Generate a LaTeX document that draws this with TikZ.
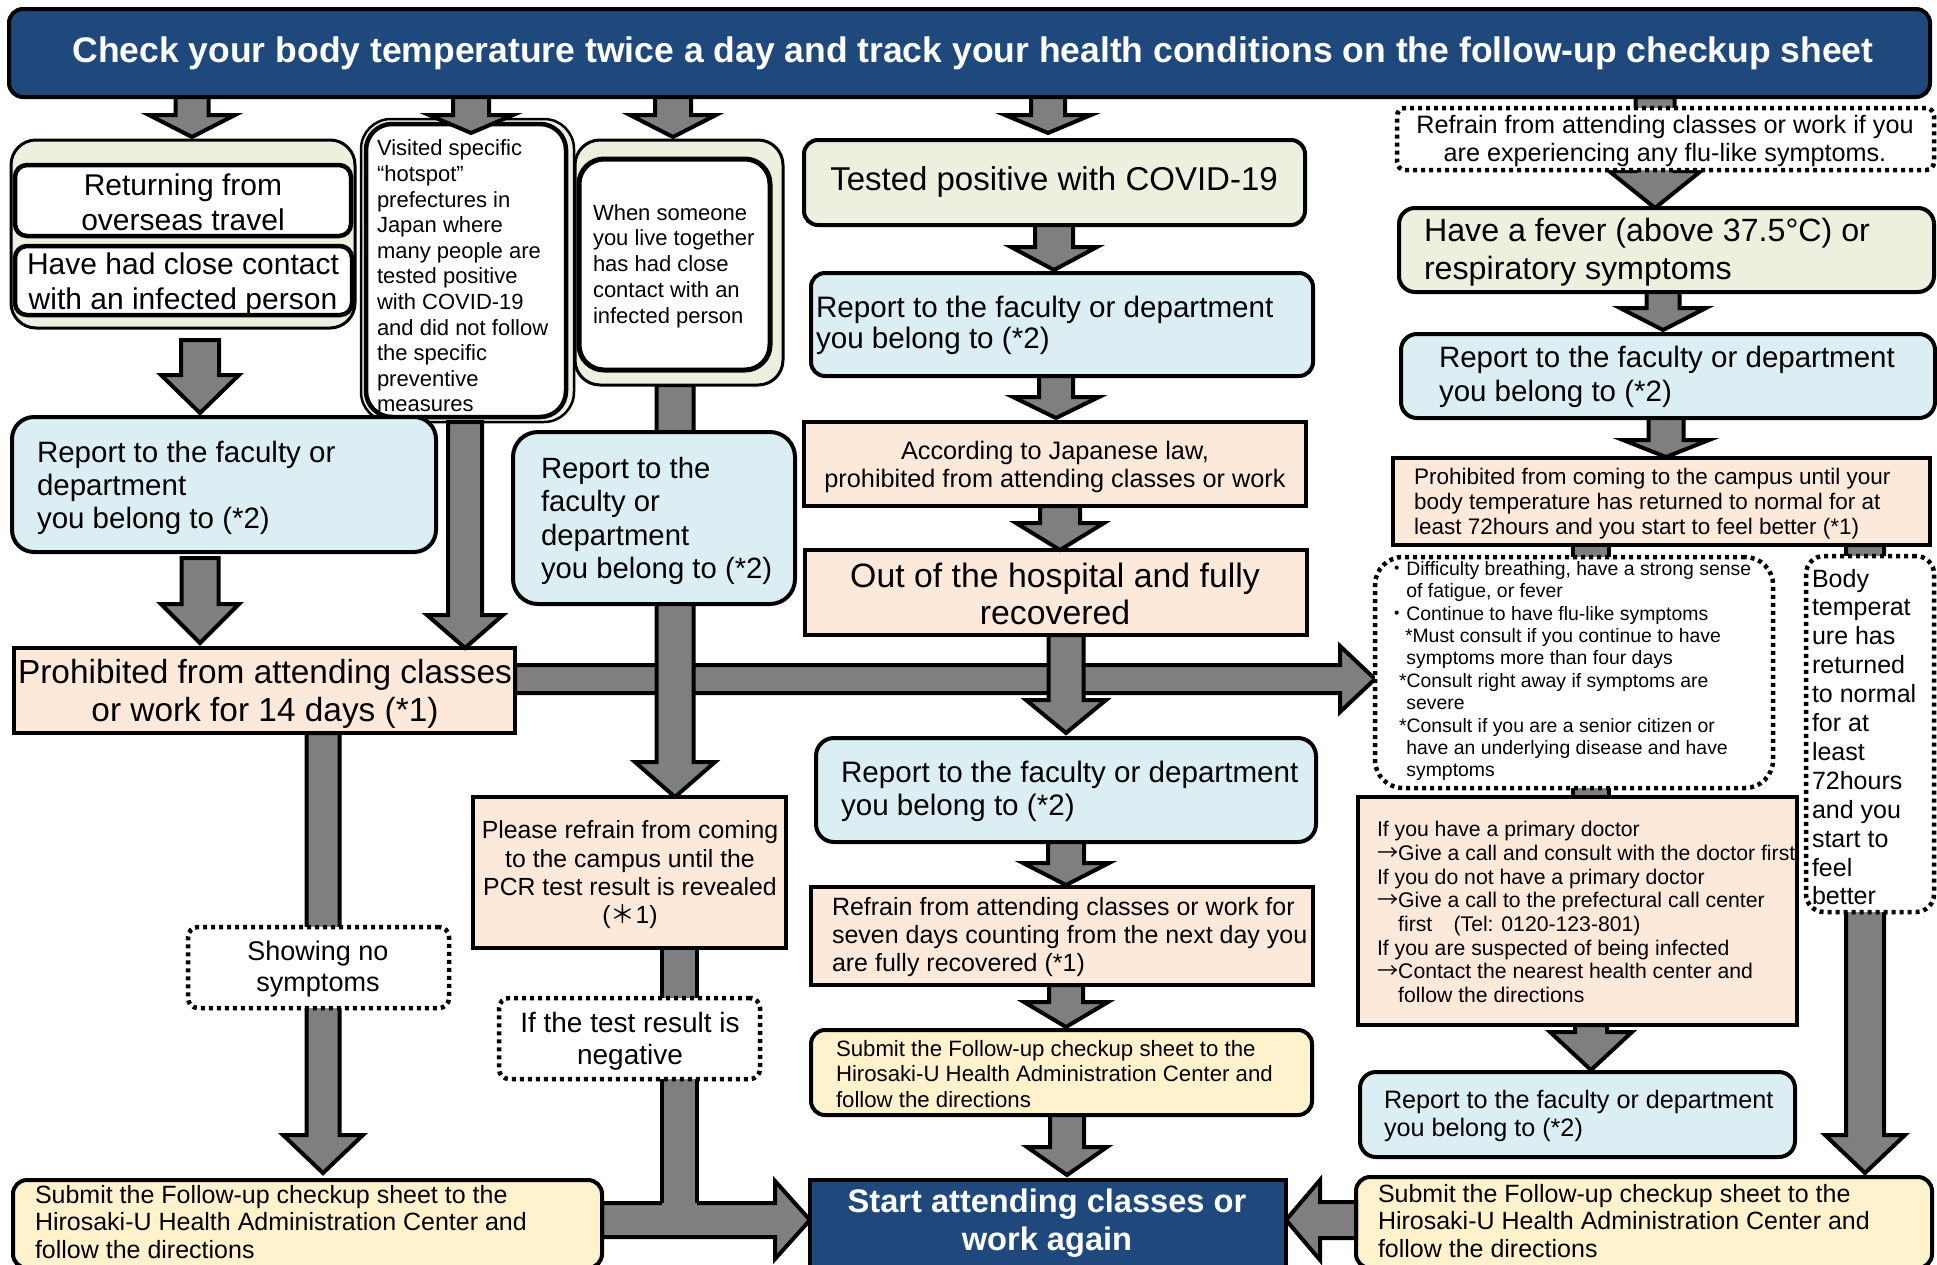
\documentclass[tikz,border=0pt]{standalone}
\usepackage{fontspec}
\setmainfont{Liberation Sans}
\newfontfamily\cjk{Noto Sans CJK JP}
\usetikzlibrary{calc,fit}
\definecolor{tgreen}{HTML}{EBF1DE}
\definecolor{tblue}{HTML}{DAEEF3}
\definecolor{tpeach}{HTML}{FDE9D9}
\definecolor{tyellow}{HTML}{FFF2CC}
\definecolor{tnavy}{HTML}{1F497D}
\definecolor{tgray}{HTML}{7F7F7F}
\pgfdeclarelayer{bg}
\pgfsetlayers{bg,main}
\newcommand\fz[2]{\fontsize{#1pt}{#2pt}\selectfont}
% vertical block arrow: from, to, x, shaft half, head half, head length
\newcommand\varrow[6]{%
  \draw[blk] let \p1=#1, \p2=#2, \p3=(#3,0) in
   (\x3-#4pt,\y1) -- (\x3+#4pt,\y1) -- (\x3+#4pt,\y2+#6pt) -- (\x3+#5pt,\y2+#6pt)
   -- (\x3,\y2) -- (\x3-#5pt,\y2+#6pt) -- (\x3-#4pt,\y2+#6pt) -- cycle;}
% rightward block arrow: from, to, y, shaft half, head half, head length
\newcommand\harrow[6]{%
  \draw[blk] let \p1=#1, \p2=#2, \p3=(0,#3) in
   (\x1,\y3+#4pt) -- (\x2-#6pt,\y3+#4pt) -- (\x2-#6pt,\y3+#5pt) -- (\x2,\y3)
   -- (\x2-#6pt,\y3-#5pt) -- (\x2-#6pt,\y3-#4pt) -- (\x1,\y3-#4pt) -- cycle;}
% leftward block arrow
\newcommand\larrow[6]{%
  \draw[blk] let \p1=#1, \p2=#2, \p3=(0,#3) in
   (\x1,\y3+#4pt) -- (\x2+#6pt,\y3+#4pt) -- (\x2+#6pt,\y3+#5pt) -- (\x2,\y3)
   -- (\x2+#6pt,\y3-#5pt) -- (\x2+#6pt,\y3-#4pt) -- (\x1,\y3-#4pt) -- cycle;}
% vertical bar: from, to, x, half width
\newcommand\vbar[4]{%
  \draw[blk] let \p1=#1, \p2=#2, \p3=(#3,0) in
   (\x3-#4pt,\y1) rectangle (\x3+#4pt,\y2);}
\begin{document}
\begin{tikzpicture}[x=1pt,y=-1pt,
  blk/.style={fill=tgray,draw=black,line width=4pt,line join=miter},
  bx/.style={draw=black,line width=4pt,inner sep=0pt,outer sep=0pt},
  rbox/.style={bx,rounded corners=#1}, rbox/.default=14pt,
  dbox/.style={bx,fill=white,line width=4.5pt,dash pattern=on 4pt off 4pt,rounded corners=#1}, dbox/.default=10pt,
  txt/.style={inner sep=0pt,outer sep=0pt,text=black}
]
\path[use as bounding box] (0,0) rectangle (1937,1264);
\clip (0,0) rectangle (1937,1264);

% ---------- boxes ----------
\node[rbox=14pt, fill=tnavy, fit={(9,9) (1930,97)}] (title) {};

\node[rbox=25pt, fill=tgreen, line width=3pt, fit={(11,140) (355,328)}] (grp1) {};
\node[rbox=12pt, fill=white, line width=4.5pt, fit={(15,165) (351,236)}] (in1) {};
\node[rbox=12pt, fill=white, line width=4.5pt, fit={(15,246) (352,315)}] (in2) {};
\node[rbox=30pt, fill=tgreen, line width=2.5pt, fit={(361,119) (574,422)}] (visO) {};
\node[rbox=26pt, fill=white, line width=4.5pt, fit={(366,124) (566,417)}] (visI) {};
\node[rbox=25pt, fill=tgreen, line width=3pt, fit={(575,140) (783,385)}] (grp3) {};
\node[rbox=25pt, fill=white, line width=5pt, fit={(579,159) (770,370)}] (when) {};

\node[rbox=22pt, fill=tblue, fit={(12,417) (436,552)}] (rep1) {};
\node[bx, fill=tpeach, fit={(14,648) (515,733)}] (pro1) {};
\node[rbox=25pt, fill=tblue, fit={(513,432) (795,604)}] (rep3) {};
\node[bx, fill=tpeach, fit={(473,797) (786,948)}] (please) {};
\node[dbox, fit={(188,927) (449,1008)}] (nosym) {};
\node[dbox, fit={(499,998) (760,1079)}] (neg) {};
\node[rbox=14pt, fill=tyellow, fit={(13,1180) (602,1268)}] (sub1) {};

\node[rbox=14pt, fill=tgreen, fit={(804,140) (1305,225)}] (tested) {};
\node[rbox=14pt, fill=tblue, fit={(811,273) (1313,376)}] (repc1) {};
\node[bx, fill=tpeach, fit={(804,422) (1306,506)}] (acc) {};
\node[bx, fill=tpeach, fit={(805,550) (1307,635)}] (out) {};
\node[rbox=18pt, fill=tblue, fit={(816,738) (1316,842)}] (repc2) {};
\node[bx, fill=tpeach, fit={(811,887) (1313,985)}] (refc) {};
\node[rbox=14pt, fill=tyellow, fit={(811,1030) (1312,1115)}] (subc) {};
\node[bx, fill=tnavy, fit={(810,1180) (1286,1268)}] (start) {};

\node[dbox=8pt, fit={(1397,108) (1934,170)}] (dtop) {};
\node[rbox=16pt, fill=tgreen, fit={(1399,208) (1934,292)}] (fever) {};
\node[rbox=16pt, fill=tblue, fit={(1401,334) (1935,418)}] (rep5) {};
\node[bx, fill=tpeach, fit={(1393,458) (1930,545)}] (pro5) {};
\node[dbox=28pt, fit={(1375,557) (1773,788)}] (bul) {};
\node[bx, fill=tpeach, fit={(1358,797) (1797,1025)}] (doc) {};
\node[rbox=16pt, fill=tblue, fit={(1360,1072) (1795,1157)}] (rep6) {};
\node[dbox=18pt, fit={(1806,556) (1934,912)}] (tall) {};
\node[rbox=14pt, fill=tyellow, fit={(1356,1177) (1932,1268)}] (sub5) {};

% ---------- arrows behind boxes ----------
\begin{pgfonlayer}{bg}
\fill[white] (0,0) rectangle (1937,1264);
\varrow{(title.south)}{(fever.north)}{1655}{19.5}{46}{37}
\harrow{(pro1.east)}{(bul.west)}{679}{14}{33}{35}
\varrow{(grp3.south)}{(please.north)}{675}{18.5}{40}{35}
\varrow{(out.south)}{($(repc2.north)+(0,-5)$)}{1066}{17.5}{40}{33}
\varrow{(pro1.south)}{($(sub1.north)+(0,-7)$)}{323}{16.5}{40}{38}
\harrow{(sub1.east)}{(start.west)}{1220}{17}{39}{35}
\fill[tgray] let \p1=(please.south), \p3=(679,1205.5) in (\x3-17.5pt,\y1) rectangle (\x3+17.5pt,\y3);
\draw[line width=4pt] let \p1=(please.south), \p3=(679,1203) in
  (\x3-17.5pt,\y1) -- (\x3-17.5pt,\y3) (\x3+17.5pt,\y1) -- (\x3+17.5pt,\y3);
\vbar{(pro5.south)}{(doc.north)}{1591}{18}
\varrow{(pro5.south)}{($(sub5.north)+(0,-4)$)}{1865}{19}{40}{38}
\end{pgfonlayer}

% ---------- arrows over boxes ----------
\varrow{(title.south)}{($(grp1.north)+(0,-3)$)}{192}{16.5}{43}{22}
\varrow{(title.south)}{($(visO.north)+(0,14)$)}{471}{18}{42}{18}
\varrow{(title.south)}{($(grp3.north)+(0,-3)$)}{673}{18}{43}{22}
\varrow{(title.south)}{($(tested.north)+(0,-7)$)}{1048}{17}{43}{18}
\varrow{($(grp1.south)+(0,12)$)}{($(rep1.north)+(0,-4)$)}{200}{19}{39}{38}
\varrow{($(rep1.south)+(0,6)$)}{($(pro1.north)+(0,-5)$)}{200}{18.5}{39}{39}
\varrow{(visO.south)}{(pro1.north)}{465}{17}{38}{33}
\varrow{(tested.south)}{($(repc1.north)+(0,-3)$)}{1054}{19}{43}{23}
\varrow{(repc1.south)}{($(acc.north)+(0,-4)$)}{1056}{17}{43}{21}
\varrow{(acc.south)}{(out.north)}{1060}{20}{44}{27}
\varrow{(repc2.south)}{($(refc.north)+(0,-2)$)}{1066}{18}{43}{22}
\varrow{(refc.south)}{($(subc.north)+(0,-3)$)}{1066}{17}{42}{25}
\varrow{(subc.south)}{($(start.north)+(0,-5)$)}{1067}{17}{40}{28}
\varrow{(fever.south)}{($(rep5.north)+(0,-4)$)}{1663}{16.5}{43}{22}
\varrow{(rep5.south)}{($(pro5.north)+(0,-1)$)}{1666}{17.5}{43}{17}
\varrow{(doc.south)}{($(rep6.north)+(0,-2)$)}{1591}{16}{41}{38}
\larrow{(sub5.west)}{(start.east)}{1220}{18}{40}{34}

% ---------- texts ----------
\node[txt, text=white, font=\fz{35.5}{40}\bfseries] (titlet) at (973,53)
  {Check your body temperature twice a day and track your health conditions on the follow-up checkup sheet};
\node[txt, align=center, font=\fz{30}{35}] (in1t) at (183,202) {Returning from\\overseas travel};
\node[txt, align=center, font=\fz{30}{35}] (in2t) at (183,284) {Have had close contact\\with an infected person};
\node[txt, align=left, anchor=west, font=\fz{22}{25.6}] (vist) at (377,276)
  {Visited specific\\“hotspot”\\prefectures in\\Japan where\\many people are\\tested positive\\with COVID-19\\and did not follow\\the specific\\preventive\\measures};
\node[txt, align=left, anchor=west, font=\fz{22}{25.8}] (whent) at (593,266)
  {When someone\\you live together\\has had close\\contact with an\\infected person};
\node[txt, align=left, anchor=west, font=\fz{29.5}{33}] (rep1t) at (37,488)
  {Report to the faculty or\\department\\you belong to (*2)};
\node[txt, align=center, font=\fz{33.4}{38}] (pro1t) at (265,694)
  {Prohibited from attending classes\\or work for 14 days (*1)};
\node[txt, align=left, anchor=west, font=\fz{29.3}{33.3}] (rep3t) at (541,521)
  {Report to the\\faculty or\\department\\you belong to (*2)};
\node[txt, align=center, font=\fz{24.8}{28.3}] (pleaset) at (630,875)
  {Please refrain from coming\\to the campus until the\\PCR test result is revealed\\({\cjk ＊}1)};
\node[txt, align=center, font=\fz{27}{31}] (nosymt) at (318,969) {Showing no\\symptoms};
\node[txt, align=center, font=\fz{28}{32}] (negt) at (630,1041) {If the test result is\\negative};
\node[txt, align=left, anchor=west, font=\fz{25}{27.5}] (sub1t) at (35,1222)
  {Submit the Follow-up checkup sheet to the\\Hirosaki-U Health Administration Center and\\follow the directions};

\node[txt, font=\fz{33}{38}] (testedt) at (1054,182) {Tested positive with COVID-19};
\node[txt, align=left, anchor=west, font=\fz{29.6}{31}] (repc1t) at (816,325)
  {Report to the faculty or department\\you belong to (*2)};
\node[txt, align=center, font=\fz{25.3}{28}] (acct) at (1055,467)
  {According to Japanese law,\\prohibited from attending classes or work};
\node[txt, align=center, font=\fz{33.8}{37}] (outt) at (1055,594) {Out of the hospital and fully\\recovered};
\node[txt, align=left, anchor=west, font=\fz{29.6}{33}] (repc2t) at (841,791)
  {Report to the faculty or department\\you belong to (*2)};
\node[txt, align=left, anchor=west, font=\fz{25}{28}] (refct) at (832,937)
  {Refrain from attending classes or work for\\seven days counting from the next day you\\are fully recovered (*1)};
\node[txt, align=left, anchor=west, font=\fz{22.2}{25.5}] (subct) at (836,1074)
  {Submit the Follow-up checkup sheet to the\\Hirosaki-U Health Administration Center and\\follow the directions};
\node[txt, align=center, text=white, font=\fz{32.6}{38}\bfseries] (startt) at (1047,1223)
  {Start attending classes or\\work again};

\node[txt, align=center, font=\fz{25.2}{28}] (dtopt) at (1665,141)
  {Refrain from attending classes or work if you\\are experiencing any flu-like symptoms.};
\node[txt, align=left, anchor=west, font=\fz{32.2}{38}] (fevert) at (1424,252)
  {Have a fever (above 37.5°C) or\\respiratory symptoms};
\node[txt, align=left, anchor=west, font=\fz{29.5}{34}] (rep5t) at (1439,377)
  {Report to the faculty or department\\you belong to (*2)};
\node[txt, align=left, anchor=west, font=\fz{22.5}{25}] (pro5t) at (1414,504)
  {Prohibited from coming to the campus until your\\body temperature has returned to normal for at\\least 72hours and you start to feel better (*1)};
\node[txt, align=left, anchor=west, font=\fz{19.4}{22.4}] (bult) at (1387,671)
  {{\cjk ・}Difficulty breathing, have a strong sense\\
   \hspace*{19.4pt}of fatigue, or fever\\
   {\cjk ・}Continue to have flu-like symptoms\\
   \hspace*{18pt}*Must consult if you continue to have\\
   \hspace*{19.4pt}symptoms more than four days\\
   \hspace*{12pt}*Consult right away if symptoms are\\
   \hspace*{19.4pt}severe\\
   \hspace*{12pt}*Consult if you are a senior citizen or\\
   \hspace*{19.4pt}have an underlying disease and have\\
   \hspace*{19.4pt}symptoms};
\node[txt, align=left, anchor=west, font=\fz{21.2}{23.7}] (doct) at (1377,912)
  {If you have a primary doctor\\
   {\cjk →}Give a call and consult with the doctor first\\
   If you do not have a primary doctor\\
   {\cjk →}Give a call to the prefectural call center\\
   \hspace*{21.2pt}first{\cjk 　}(Tel: 0120-123-801)\\
   If you are suspected of being infected\\
   {\cjk →}Contact the nearest health center and\\
   \hspace*{21.2pt}follow the directions};
\node[txt, align=left, anchor=west, font=\fz{25.2}{28}] (rep6t) at (1384,1116)
  {Report to the faculty or department\\you belong to (*2)};
\node[txt, align=left, anchor=west, font=\fz{25}{28.9}] (tallt) at (1812,737)
  {Body\\temperat\\ure has\\returned\\to normal\\for at\\least\\72hours\\and you\\start to\\feel\\better};
\node[txt, align=left, anchor=west, font=\fz{25}{27.5}] (sub5t) at (1378,1221)
  {Submit the Follow-up checkup sheet to the\\Hirosaki-U Health Administration Center and\\follow the directions};
\end{tikzpicture}
\end{document}
